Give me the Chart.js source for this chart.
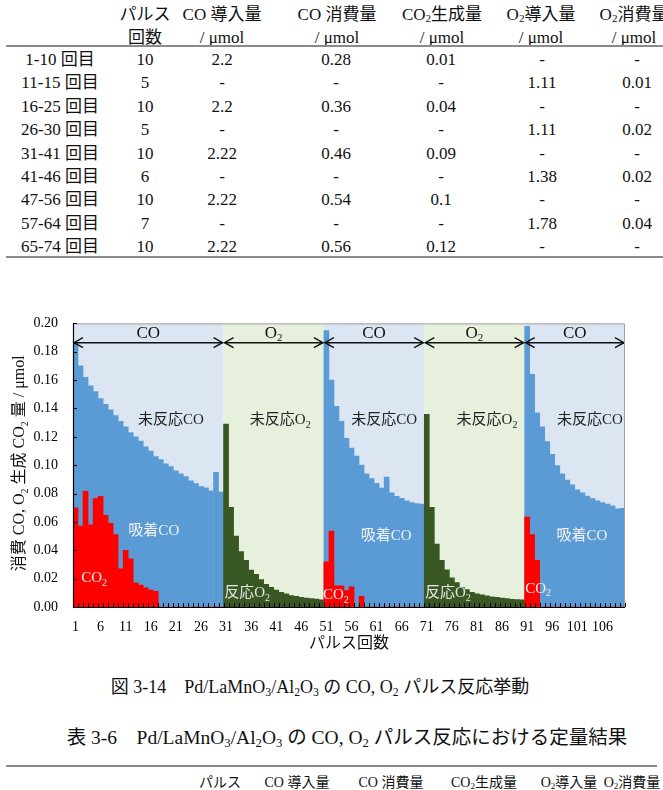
<!DOCTYPE html>
<html><head><meta charset="utf-8">
<script src="https://cdn.jsdelivr.net/npm/chart.js@4.4.1/dist/chart.umd.min.js"></script>
<style>
body{margin:0;width:663px;height:790px;position:relative;overflow:hidden;background:#fff;font-family:"Liberation Serif","Noto Sans CJK JP",serif;color:#111}
.t{position:absolute;transform:translate(-50%,-50%);white-space:nowrap;font-size:17px;line-height:1}
.s{font-size:14px}
.c{font-size:18px}
.c2{font-size:19.5px}
sub{font-size:0.65em;vertical-align:-0.25em;line-height:0}
.rule{position:absolute;height:2px;background:#8a8a8a}
#c{position:absolute;left:0;top:300px}
</style></head><body>
<!-- top table -->
<div class="t" style="left:145px;top:14px">パルス</div>
<div class="t" style="left:222px;top:14px">CO 導入量</div>
<div class="t" style="left:337px;top:14px">CO 消費量</div>
<div class="t" style="left:442px;top:14px">CO<sub>2</sub>生成量</div>
<div class="t" style="left:541px;top:14px">O<sub>2</sub>導入量</div>
<div class="t" style="left:634px;top:14px">O<sub>2</sub>消費量</div>
<div class="t" style="left:145px;top:37px">回数</div>
<div class="t" style="left:222px;top:37px">/ μmol</div>
<div class="t" style="left:337px;top:37px">/ μmol</div>
<div class="t" style="left:442px;top:37px">/ μmol</div>
<div class="t" style="left:541px;top:37px">/ μmol</div>
<div class="t" style="left:634px;top:37px">/ μmol</div>
<div class="rule" style="left:6px;width:657px;top:45px"></div>
<div id="rows"></div>
<div class="rule" style="left:6px;width:657px;top:256px"></div>

<canvas id="c" width="663" height="360"></canvas>

<div class="t c" style="left:320px;top:687px">図 3-14　Pd/LaMnO<sub>3</sub>/Al<sub>2</sub>O<sub>3</sub> の CO, O<sub>2</sub> パルス反応挙動</div>
<div class="t c2" style="left:347px;top:738px">表 3-6　Pd/LaMnO<sub>3</sub>/Al<sub>2</sub>O<sub>3</sub> の CO, O<sub>2</sub> パルス反応における定量結果</div>
<div class="rule" style="left:6px;width:651px;top:765px"></div>
<div class="t s" style="left:220px;top:783px">パルス</div>
<div class="t s" style="left:297px;top:783px">CO 導入量</div>
<div class="t s" style="left:391px;top:783px">CO 消費量</div>
<div class="t s" style="left:484px;top:783px">CO<sub>2</sub>生成量</div>
<div class="t s" style="left:569px;top:783px">O<sub>2</sub>導入量</div>
<div class="t s" style="left:632px;top:783px">O<sub>2</sub>消費量</div>

<script>
// ---- table content ----
const tableRows = [
  ['1-10 回目','10','2.2','0.28','0.01','-','-'],
  ['11-15 回目','5','-','-','-','1.11','0.01'],
  ['16-25 回目','10','2.2','0.36','0.04','-','-'],
  ['26-30 回目','5','-','-','-','1.11','0.02'],
  ['31-41 回目','10','2.22','0.46','0.09','-','-'],
  ['41-46 回目','6','-','-','-','1.38','0.02'],
  ['47-56 回目','10','2.22','0.54','0.1','-','-'],
  ['57-64 回目','7','-','-','-','1.78','0.04'],
  ['65-74 回目','10','2.22','0.56','0.12','-','-']
];
const colX = [60,145,222,336,441,542,637];
(function(){
  const host = document.getElementById('rows');
  tableRows.forEach((r,ri)=>{
    r.forEach((txt,ci)=>{
      const d = document.createElement('div');
      d.className='t';
      d.style.left = colX[ci]+'px';
      d.style.top = (59 + ri*23.4)+'px';
      d.textContent = txt;
      host.appendChild(d);
    });
  });
})();

// ---- chart data ----
const pulses = ['1','2','3','4','5','6','7','8','9','10','11','12','13','14','15','16','17','18','19','20',
 '21','22','23','24','25','26','27','28','29','30','31','32','33','34','35','36','37','38','39','40',
 '41','42','43','44','45','46','47','48','49','50','51','52','53','54','55','56','57','58','59','60',
 '61','62','63','64','65','66','67','68','69','70','71','72','73','74','75','76','77','78','79','80',
 '81','82','83','84','85','86','87','88','89','90','91','92','93','94','95','96','97','98','99','100',
 '101','102','103','104','105','106','107','108','109','110'];

const regionGas   = ['CO','O_2','CO','O_2','CO'];
const regionStart = [1,31,51,71,91];
const regionEnd   = [30,50,70,90,110];

// consumed CO (blue, 吸着CO total height)
const coConsumed = [
 0.186,0.170,0.162,0.156,0.152,0.147,0.143,0.139,0.135,0.131,0.127,0.123,0.120,0.117,0.113,0.110,0.106,0.104,0.101,0.099,
 0.096,0.094,0.092,0.089,0.087,0.085,0.084,0.082,0.095,0.081,
 null,null,null,null,null,null,null,null,null,null,null,null,null,null,null,null,null,null,null,null,
 0.195,0.160,0.1415,0.131,0.119,0.112,0.1065,0.100,0.094,0.0906,0.0873,0.0838,0.0917,0.0805,0.078,0.0766,0.0748,0.0737,0.073,0.0725,
 null,null,null,null,null,null,null,null,null,null,null,null,null,null,null,null,null,null,null,null,
 0.198,0.164,0.137,0.127,0.1166,0.1076,0.0997,0.094,0.0895,0.0861,0.0827,0.0805,0.0782,0.0764,0.0748,0.0737,0.0725,0.0714,0.0692,0.0696
];
// formed CO2 (red)
const co2Formed = [
 0.070,0.057,0.0816,0.058,0.0764,0.078,0.0646,0.059,0.051,0.027,0.040,0.034,0.017,0.0155,0.0135,0.012,0.011,0,0,0,
 0,0,0,0,0,0,0,0,0,0,
 null,null,null,null,null,null,null,null,null,null,null,null,null,null,null,null,null,null,null,null,
 0.0319,0.0535,0.015,0.015,0.0115,0.0143,0,0.0075,0,0,0,0,0,0,0,0,0,0,0,0,
 null,null,null,null,null,null,null,null,null,null,null,null,null,null,null,null,null,null,null,null,
 0.0635,0.051,0.033,0,0,0,0,0,0,0,0,0,0,0,0,0,0,0,0,0
];
// reacted O2 (dark green)
const o2Reacted = [
 null,null,null,null,null,null,null,null,null,null,null,null,null,null,null,null,null,null,null,null,
 null,null,null,null,null,null,null,null,null,null,
 0.129,0.0703,0.050,0.039,0.033,0.026,0.023,0.0194,0.016,0.0138,0.012,0.0104,0.0093,0.0081,0.0075,0.0068,0.0063,0.0059,0.0055,0.005,
 null,null,null,null,null,null,null,null,null,null,null,null,null,null,null,null,null,null,null,null,
 0.1358,0.0703,0.0443,0.033,0.0262,0.0206,0.0172,0.0138,0.0122,0.0104,0.0093,0.0086,0.0079,0.0072,0.0068,0.0063,0.0059,0.0054,0.0052,0.005,
 null,null,null,null,null,null,null,null,null,null,null,null,null,null,null,null,null,null,null,null
];

const FONT = '"Liberation Serif", "Noto Sans CJK JP", serif';

function richParts(s){
  const parts=[]; let buf='';
  for(let i=0;i<s.length;i++){
    if(s[i]==='_'){ if(buf){parts.push([buf,false]);buf='';} parts.push([s[i+1],true]); i++; }
    else buf+=s[i];
  }
  if(buf) parts.push([buf,false]);
  return parts;
}
function drawRich(ctx, s, x, y, size, color){
  const parts = richParts(s);
  const nf = size+'px '+FONT, sf = Math.round(size*0.65)+'px '+FONT;
  let w=0;
  parts.forEach(p=>{ctx.font=p[1]?sf:nf; w+=ctx.measureText(p[0]).width;});
  let cx = x - w/2;
  ctx.fillStyle=color; ctx.textBaseline='middle'; ctx.textAlign='left';
  parts.forEach(p=>{
    ctx.font=p[1]?sf:nf;
    ctx.fillText(p[0], cx, p[1]? y+size*0.32 : y);
    cx += ctx.measureText(p[0]).width;
  });
}

const notes = [
  {t:'未反応CO', p:20,   v:0.1315, c:'#222', s:15},
  {t:'未反応O_2',p:41.8, v:0.1315, c:'#222', s:15},
  {t:'未反応CO', p:62.5, v:0.1315, c:'#222', s:15},
  {t:'未反応O_2',p:83,   v:0.1315, c:'#222', s:15},
  {t:'未反応CO', p:103.5,v:0.1315, c:'#222', s:15},
  {t:'吸着CO',   p:16.6, v:0.0536, c:'#f2f2f2', s:15},
  {t:'吸着CO',   p:62.9, v:0.0502, c:'#f2f2f2', s:15},
  {t:'吸着CO',   p:101.9,v:0.0502, c:'#f2f2f2', s:15},
  {t:'CO_2',     p:4.7,  v:0.0203, c:'#f2f2f2', s:15},
  {t:'反応O_2',  p:35.2, v:0.0095, c:'#e6e6e6', s:15},
  {t:'CO_2',     p:52.9, v:0.0081, c:'#f2f2f2', s:15},
  {t:'反応O_2',  p:75.2, v:0.0095, c:'#e6e6e6', s:15},
  {t:'CO_2',     p:93.2, v:0.0129, c:'#f2f2f2', s:15}
];

const deco = {
  id:'deco',
  beforeDatasetsDraw(chart){
    const {ctx, chartArea:a, scales:{x:xs}} = chart;
    const bw = xs.getPixelForValue(1)-xs.getPixelForValue(0);
    ctx.save();
    regionStart.forEach((s,i)=>{
      const x0 = xs.getPixelForValue(s-1)-bw/2, x1 = xs.getPixelForValue(regionEnd[i]-1)+bw/2;
      ctx.fillStyle = regionGas[i]==='CO' ? '#dce6f2' : '#e6f0dc';
      ctx.fillRect(x0, a.top, x1-x0, a.bottom-a.top);
    });
    ctx.restore();
  },
  afterDatasetsDraw(chart){
    const {ctx, chartArea:a, scales:{x:xs, y:ys}} = chart;
    const bw = xs.getPixelForValue(1)-xs.getPixelForValue(0);
    const px = p => xs.getPixelForValue(0) + (p-1)*bw;
    ctx.save();
    // arrows
    const ay = ys.getPixelForValue(0.1864);
    ctx.strokeStyle='#111'; ctx.lineWidth=1.4;
    regionStart.forEach((s,i)=>{
      const x0 = xs.getPixelForValue(s-1)-bw/2+1, x1 = xs.getPixelForValue(regionEnd[i]-1)+bw/2-1;
      ctx.beginPath(); ctx.moveTo(x0,ay); ctx.lineTo(x1,ay); ctx.stroke();
      ctx.beginPath(); ctx.moveTo(x0+9,ay-5); ctx.lineTo(x0,ay); ctx.lineTo(x0+9,ay+5); ctx.stroke();
      ctx.beginPath(); ctx.moveTo(x1-9,ay-5); ctx.lineTo(x1,ay); ctx.lineTo(x1-9,ay+5); ctx.stroke();
      drawRich(ctx, regionGas[i], (x0+x1)/2, ys.getPixelForValue(0.1932), 17, '#111');
    });
    // notes
    notes.forEach(n=> drawRich(ctx, n.t, px(n.p), ys.getPixelForValue(n.v), n.s, n.c));
    // frame
    ctx.strokeStyle='#a0a0a0'; ctx.lineWidth=1;
    ctx.beginPath(); ctx.moveTo(a.left, a.top+0.5); ctx.lineTo(a.right-0.5, a.top+0.5); ctx.lineTo(a.right-0.5, a.bottom); ctx.stroke();
    ctx.strokeStyle='#000'; ctx.lineWidth=1.2;
    ctx.beginPath(); ctx.moveTo(a.left+0.5, a.top); ctx.lineTo(a.left+0.5, a.bottom+0.5); ctx.lineTo(a.right, a.bottom+0.5); ctx.stroke();
    // inward ticks
    ctx.lineWidth=1;
    ctx.beginPath();
    for(let i=0;i<=pulses.length;i++){
      const x = Math.round(xs.getPixelForValue(0)-bw/2 + i*bw)+0.5;
      ctx.moveTo(x, a.bottom); ctx.lineTo(x, a.bottom-4);
    }
    ys.ticks.forEach(t=>{
      const y = Math.round(ys.getPixelForValue(t.value))+0.5;
      ctx.moveTo(a.left, y); ctx.lineTo(a.left+4, y);
    });
    ctx.stroke();
    // y-axis title
    ctx.translate(20, (a.top+a.bottom)/2 - 2);
    ctx.rotate(-Math.PI/2);
    drawRich(ctx, '消費 CO, O_2 生成 CO_2 量 / μmol', 0, 0, 16, '#111');
    ctx.restore();
  }
};

new Chart(document.getElementById('c'), {
  type:'bar',
  data:{
    labels: pulses,
    datasets:[
      {label:'CO2', data:co2Formed, backgroundColor:'#ff0000', order:1},
      {label:'反応O2', data:o2Reacted, backgroundColor:'#385723', order:2},
      {label:'吸着CO', data:coConsumed, backgroundColor:'#5b9bd5', order:3}
    ]
  },
  options:{
    responsive:false, animation:false,
    datasets:{bar:{grouped:false, barPercentage:1, categoryPercentage:1, borderWidth:0}},
    layout:{padding:{left:0,right:38,top:12,bottom:0}},
    plugins:{legend:{display:false}, tooltip:{enabled:false}},
    scales:{
      x:{
        grid:{display:false, drawTicks:false}, border:{display:false},
        ticks:{autoSkip:false, maxRotation:0, minRotation:0, padding:12, color:'#000',
               font:{family:FONT, size:14}, callback:(v,i)=> i%5===0 ? pulses[i] : ''},
        title:{display:true, text:'パルス回数', color:'#111', font:{family:FONT, size:16}, padding:{top:0,bottom:7}},
        afterFit:s=>{s.height=53;}
      },
      y:{
        min:0, max:0.2,
        grid:{display:false, drawTicks:false}, border:{display:false},
        ticks:{stepSize:0.02, padding:15, color:'#000', font:{family:FONT, size:14}, callback:v=>Number(v).toFixed(2)},
        afterFit:s=>{s.width=73;}
      }
    }
  },
  plugins:[deco]
});
</script>
</body></html>
